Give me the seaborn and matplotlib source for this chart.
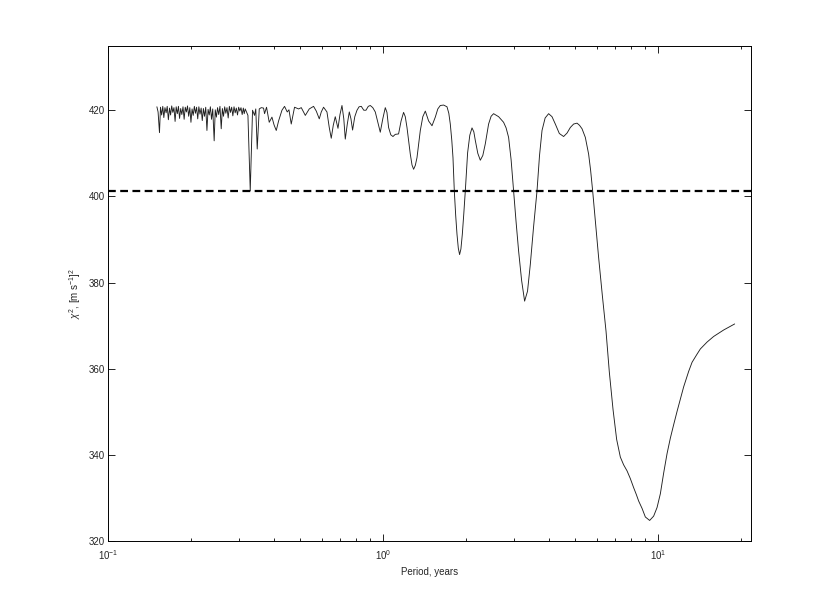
import numpy as np
import matplotlib
matplotlib.use('Agg')
import matplotlib.pyplot as plt
import matplotlib.ticker as mticker
import seaborn as sns

# --- chi^2 periodogram, values ---
# short periods: noisy part (years)
period_noisy = [0.1507, 0.1522, 0.1540, 0.1553, 0.1568, 0.1583, 0.1597, 0.1612, 0.1628, 0.1643,
                0.1659, 0.1675, 0.1690, 0.1706, 0.1722, 0.1738, 0.1755, 0.1771, 0.1788, 0.1805,
                0.1822, 0.1839, 0.1857, 0.1875, 0.1893, 0.1911, 0.1929, 0.1947, 0.1966, 0.1985,
                0.2004, 0.2023, 0.2042, 0.2062, 0.2081, 0.2101, 0.2121, 0.2141, 0.2162, 0.2183,
                0.2203, 0.2224, 0.2245, 0.2268, 0.2291, 0.2313, 0.2336, 0.2358, 0.2381, 0.2405,
                0.2434, 0.2456, 0.2480, 0.2504, 0.2528, 0.2555, 0.2582, 0.2607, 0.2632, 0.2658,
                0.2684, 0.2710, 0.2737, 0.2764, 0.2791, 0.2818, 0.2846, 0.2874, 0.2902, 0.2930,
                0.2959, 0.2988, 0.3017, 0.3047, 0.3077, 0.3107, 0.3130, 0.3157, 0.3190, 0.3229,
                0.3292]
chi2_noisy = [420.8, 419.6, 414.8, 420.7, 418.9, 420.9, 418.3, 420.6, 419.4, 420.9,
              417.8, 420.5, 418.9, 421.0, 419.5, 420.6, 417.4, 420.8, 419.2, 420.9,
              418.1, 420.4, 419.0, 420.8, 417.9, 420.7, 419.6, 421.0, 418.6, 420.6,
              417.2, 420.3, 418.8, 420.9, 419.3, 420.7, 418.0, 420.8, 419.1, 420.5,
              417.6, 420.4, 418.6, 420.7, 415.3, 420.2, 418.9, 420.8, 417.9, 420.3,
              412.9, 420.1, 418.4, 420.6, 419.0, 420.9, 415.7, 420.4, 418.6, 420.8,
              419.3, 420.6, 418.2, 420.9, 419.5, 420.7, 418.7, 420.8, 419.4, 420.5,
              418.9, 420.7, 419.8, 420.6, 419.0, 420.5, 419.2, 420.3, 419.6, 418.8,
              401.3]

# mid periods: wiggles up to ~1 year
period_mid = [0.3356, 0.3413, 0.3448, 0.3490, 0.3550, 0.3610, 0.3680, 0.3711, 0.3773, 0.3859,
              0.3948, 0.4018, 0.4093, 0.4173, 0.4293, 0.4387, 0.4487, 0.4552, 0.4640, 0.4770,
              0.4934, 0.5047, 0.5220, 0.5395, 0.5593, 0.5722, 0.5867, 0.5966, 0.6081, 0.6257,
              0.6378, 0.6486, 0.6596, 0.6707, 0.6862, 0.6977, 0.7095, 0.7204, 0.7294, 0.7418,
              0.7543, 0.7649, 0.7754, 0.7898, 0.8045, 0.8187, 0.8340, 0.8516, 0.8674, 0.8842,
              0.8992, 0.9182, 0.9376, 0.9574, 0.9777, 0.9984]
chi2_mid = [420.0, 418.8, 420.3, 411.0, 420.3, 420.6, 420.5, 419.2, 420.7, 417.2,
            418.4, 416.6, 415.3, 417.5, 420.0, 420.9, 419.6, 420.1, 416.8, 420.7,
            420.3, 420.6, 418.8, 420.3, 420.9, 419.8, 418.0, 419.6, 420.7, 419.6,
            416.0, 413.5, 416.5, 418.5, 415.8, 419.0, 421.1, 418.0, 413.3, 416.8,
            419.6, 418.0, 415.4, 418.5, 420.0, 420.8, 420.9, 420.0, 420.0, 420.9,
            421.1, 420.6, 419.6, 417.3, 414.9, 418.0]

# long periods: smooth part
period_long = [1.0195, 1.0339, 1.0481, 1.0675, 1.0873, 1.1084, 1.1395, 1.1636, 1.1882, 1.2053,
               1.2226, 1.2392, 1.2570, 1.2751, 1.2923, 1.3109, 1.3295, 1.3477, 1.3668, 1.3958,
               1.4254, 1.4654, 1.5074, 1.5496, 1.5824, 1.6159, 1.6612, 1.7089, 1.7351, 1.7568,
               1.7791, 1.7968, 1.8168, 1.8383, 1.8583, 1.8785, 1.8990, 1.9201, 1.9428, 1.9671,
               1.9922, 2.0307, 2.0684, 2.1069, 2.1391, 2.1659, 2.2117, 2.2586, 2.3065, 2.3550,
               2.4210, 2.4723, 2.5246, 2.6327, 2.7448, 2.8030, 2.8622, 2.9229, 2.9848, 3.0479,
               3.1125, 3.1915, 3.2726, 3.3534, 3.4323, 3.5283, 3.6308, 3.7076, 3.7861, 3.8860,
               4.0013, 4.1163, 4.2316, 4.3763, 4.5365, 4.6680, 4.7989, 4.9334, 5.0761, 5.1825,
               5.2921, 5.4405, 5.5929, 5.6877, 5.7841, 5.9309, 6.0814, 6.2733, 6.4701, 6.6514,
               6.8615, 7.0715, 7.2933, 7.4977, 7.7146, 7.9307, 8.1531, 8.3392, 8.5021, 8.7464,
               8.9917, 9.3217, 9.6383, 9.9174, 10.195, 10.481, 10.782, 11.084, 11.394, 11.724,
               12.053, 12.390, 12.922, 13.293, 13.862, 14.250, 15.074, 15.930, 17.321, 18.989]
chi2_long = [420.6, 419.5, 416.0, 414.3, 413.9, 414.4, 414.5, 417.5, 419.5, 418.5,
             416.0, 413.0, 409.8, 407.3, 406.3, 407.2, 409.0, 412.0, 415.3, 418.5,
             419.8, 417.5, 416.4, 418.4, 420.3, 421.1, 421.2, 420.8, 419.3, 416.8,
             413.0, 409.0, 401.3, 395.5, 391.2, 388.0, 386.5, 387.8, 391.2, 396.0,
             401.3, 410.1, 414.2, 415.9, 415.0, 413.0, 410.0, 408.4, 409.5, 412.2,
             416.8, 418.6, 419.2, 418.5, 417.2, 415.9, 413.7, 408.5, 401.3, 394.0,
             387.3, 380.5, 375.7, 378.0, 384.2, 393.0, 401.3, 409.5, 415.3, 418.2,
             419.2, 418.5, 416.8, 414.6, 413.9, 414.7, 416.0, 416.8, 417.0, 416.5,
             415.7, 413.7, 409.8, 406.0, 401.3, 393.5, 385.8, 377.0, 368.7, 359.2,
             350.5, 343.6, 339.5, 337.7, 336.3, 334.5, 332.4, 330.8, 329.3, 327.6,
             325.6, 324.8, 325.8, 327.8, 331.0, 335.8, 340.3, 343.9, 347.0, 350.1,
             353.0, 355.8, 359.4, 361.5, 363.4, 364.6, 366.2, 367.5, 369.0, 370.4]

threshold = 401.3  # dashed significance level

period = np.array(period_noisy + period_mid + period_long)
chi2 = np.array(chi2_noisy + chi2_mid + chi2_long)

# --- style (MATLAB-like look) ---
sns.set_style('ticks')
plt.rcParams['font.family'] = ['Liberation Sans', 'DejaVu Sans']
plt.rcParams['mathtext.fontset'] = 'custom'
plt.rcParams['mathtext.rm'] = 'Liberation Sans'
plt.rcParams['mathtext.it'] = 'Liberation Sans:italic'

fig = plt.figure(figsize=(8.3, 6.08), dpi=100)
ax = fig.add_axes([0.13, 0.11, 0.775, 0.815])

sns.lineplot(x=period, y=chi2, color='#202020', linewidth=0.65, ax=ax, sort=False)
ax.axhline(threshold, color='black', linewidth=1.6, dashes=(3.5, 2))

ax.set_xscale('log')
ax.set_xlim(0.1, 21.8)
ax.set_ylim(320, 435)
ax.set_yticks([320, 340, 360, 380, 400, 420])
ax.xaxis.set_minor_locator(mticker.LogLocator(base=10, subs=np.arange(2, 10)))
ax.xaxis.set_minor_formatter(mticker.NullFormatter())

ax.tick_params(which='both', direction='in', top=True, right=True, labelsize=7,
               width=0.6, color='black')
ax.tick_params(axis='y', pad=2)
ax.tick_params(axis='x', pad=5)
ax.tick_params(which='major', length=5)
ax.tick_params(which='minor', length=2.5)
for sp in ax.spines.values():
    sp.set_visible(True)
    sp.set_linewidth(0.7)
    sp.set_color('black')

ax.set_xlabel('Period, years', fontsize=7, labelpad=4)
ax.set_ylabel(r'$\chi^2$, [m s$^{-1}$]$^2$', fontsize=7, labelpad=4)

fig.savefig('out.png', dpi=100)
